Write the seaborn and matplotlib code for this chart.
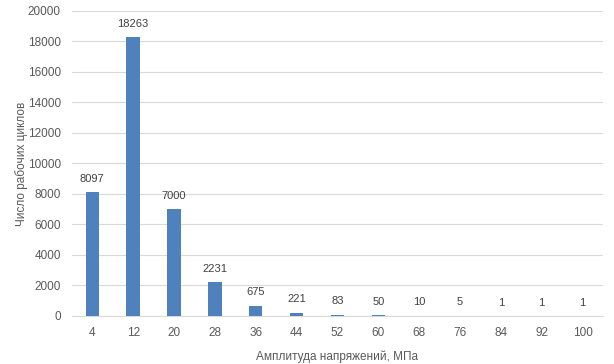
import pandas as pd
import matplotlib
matplotlib.use("Agg")
import matplotlib.pyplot as plt
import seaborn as sns

# Data
amplitudes = [4, 12, 20, 28, 36, 44, 52, 60, 68, 76, 84, 92, 100]
cycles = [8097, 18263, 7000, 2231, 675, 221, 83, 50, 10, 5, 1, 1, 1]
x_label = "Амплитуда напряжений, МПа"
y_label = "Число рабочих циклов"

df = pd.DataFrame({"amp": [str(a) for a in amplitudes], "n": cycles})

sns.set_style("white")
plt.rcParams["font.family"] = ["Liberation Sans", "DejaVu Sans"]

fig = plt.figure(figsize=(6.14, 3.64), dpi=100)
ax = fig.add_axes([0.117, 0.132, 0.865, 0.838])

sns.barplot(data=df, x="amp", y="n", color="#4f81bd", width=0.33,
            saturation=1, linewidth=0, ax=ax, zorder=3)

text_color = "#595959"
for i, v in enumerate(cycles):
    ax.text(i, v + 550, str(v), ha="center", va="bottom",
            fontsize=8, color="#404040")

ax.set_ylim(0, 20000)
ax.set_yticks(range(0, 20001, 2000))
ax.set_xlim(-0.5, len(amplitudes) - 0.5)
ax.grid(axis="y", color="#d9d9d9", linewidth=0.8, zorder=0)
for s in ["top", "right", "left"]:
    ax.spines[s].set_visible(False)
ax.spines["bottom"].set_color("#d9d9d9")
ax.tick_params(axis="both", length=0, labelsize=8.5, colors=text_color, pad=8)
ax.set_xlabel(x_label, fontsize=8.5, color=text_color, labelpad=8)
ax.set_ylabel(y_label, fontsize=8.5, color=text_color)
ax.yaxis.set_label_coords(-0.082, 0.5)

fig.savefig("out.png", dpi=100)
